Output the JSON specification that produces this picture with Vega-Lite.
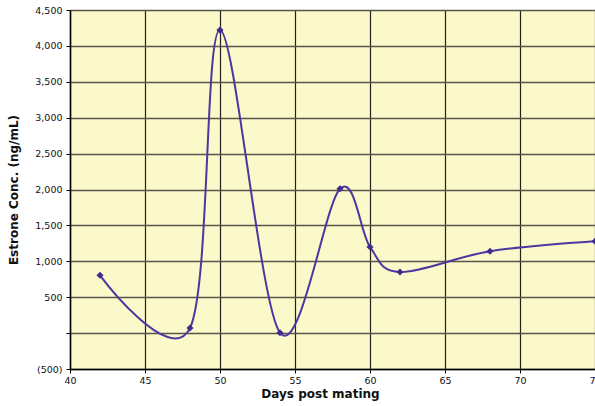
{
  "$schema": "https://vega.github.io/schema/vega-lite/v6.json",
  "width": 525,
  "height": 359,
  "autosize": {"type": "none"},
  "padding": {"left": 70, "top": 10, "right": 0, "bottom": 37},
  "background": "#ffffff",
  "config": {
    "view": {"fill": "#fbf8c9", "stroke": null},
    "font": "DejaVu Sans"
  },
  "data": {
    "values": [
      {"day": 42, "conc": 805},
      {"day": 48, "conc": 70},
      {"day": 50, "conc": 4220},
      {"day": 54, "conc": 5},
      {"day": 58, "conc": 2010},
      {"day": 60, "conc": 1200},
      {"day": 62, "conc": 850},
      {"day": 68, "conc": 1140},
      {"day": 75, "conc": 1280}
    ]
  },
  "encoding": {
    "x": {
      "field": "day",
      "type": "quantitative",
      "scale": {"domain": [40, 75], "nice": false, "zero": false},
      "axis": {
        "title": "Days post mating",
        "values": [40, 45, 50, 55, 60, 65, 70, 75],
        "grid": true,
        "gridColor": "#222222",
        "gridWidth": 1.2,
        "gridOpacity": 1,
        "domainColor": "#000000",
        "domainWidth": 1.5,
        "tickColor": "#000000",
        "tickSize": 4,
        "labelFlush": false,
        "labelBound": false,
        "labelFontSize": 9.5,
        "labelColor": "#111111",
        "labelPadding": 2,
        "titleFontSize": 12,
        "titleFontWeight": "bold",
        "titleColor": "#111111",
        "titlePadding": 4,
        "titleX": 250
      }
    },
    "y": {
      "field": "conc",
      "type": "quantitative",
      "scale": {"domain": [-500, 4500], "nice": false, "zero": false},
      "axis": {
        "title": "Estrone Conc. (ng/mL)",
        "values": [-500, 0, 500, 1000, 1500, 2000, 2500, 3000, 3500, 4000, 4500],
        "labelExpr": "datum.value == 0 ? '' : (datum.value < 0 ? '(' + format(-datum.value, ',') + ')' : format(datum.value, ','))",
        "grid": true,
        "gridColor": "#55554a",
        "gridWidth": 1.6,
        "gridOpacity": 1,
        "domainColor": "#000000",
        "domainWidth": 1.5,
        "tickColor": "#000000",
        "tickSize": 4,
        "labelFlush": false,
        "labelFontSize": 9.5,
        "labelColor": "#111111",
        "labelPadding": 4,
        "titleFontSize": 12,
        "titleFontWeight": "bold",
        "titleColor": "#111111",
        "titleX": -50
      }
    }
  },
  "layer": [
    {
      "mark": {"type": "line", "interpolate": "cardinal", "tension": 0, "color": "#4a38a0", "strokeWidth": 2}
    },
    {
      "mark": {"type": "point", "shape": "diamond", "filled": true, "size": 50, "color": "#3f2b8e", "opacity": 1}
    }
  ]
}
